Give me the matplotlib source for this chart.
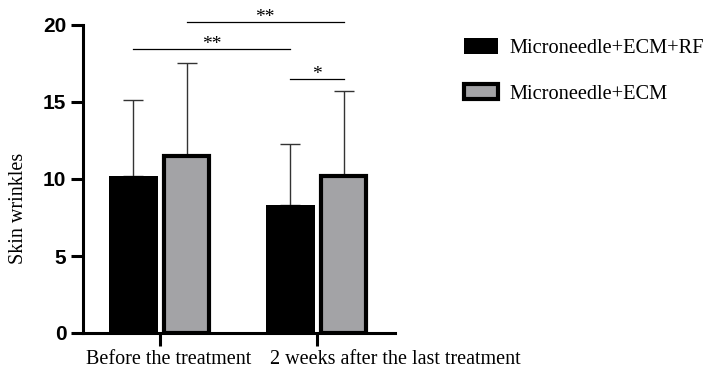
import matplotlib
matplotlib.use("Agg")
import matplotlib.pyplot as plt
import matplotlib.transforms as mtransforms
import numpy as np

categories = ["Before the treatment", "2 weeks after the last treatment"]
series_names = ["Microneedle+ECM+RF", "Microneedle+ECM"]
means_rf = [10.2, 8.3]
sd_rf = [4.9, 4.0]
means_ecm = [11.5, 10.2]
sd_ecm = [6.0, 5.5]
yticks = [0, 5, 10, 15, 20]
# significance brackets: (group_a, series_a, group_b, series_b, height, label)
sig_brackets = [
    (0, 1, 1, 1, 20.17, "**"),
    (0, 0, 1, 0, 18.42, "**"),
    (1, 0, 1, 1, 16.47, "*"),
]

serif = ["Liberation Serif", "DejaVu Serif"]
sans = ["Liberation Sans", "DejaVu Sans"]

fig = plt.figure(figsize=(7.08, 3.68), dpi=100)
ax = fig.add_axes([83/708, 35/368, 312/708, 308/368])

x = np.arange(len(categories))
off = 0.17
w = 0.31
colors = ["#000000", "#a3a3a6"]
b1 = ax.bar(x - off, means_rf, width=w, color=colors[0], edgecolor="black", linewidth=0, zorder=2, label=series_names[0])
b2 = ax.bar(x + off, means_ecm, width=w - 0.02, color=colors[1], edgecolor="black", linewidth=3.0, zorder=2, label=series_names[1])
ax.errorbar(x - off, means_rf, yerr=[np.zeros(2), sd_rf], fmt="none", ecolor="#333333", elinewidth=1.0, capsize=7, capthick=1.0, zorder=1)
ax.errorbar(x + off, means_ecm, yerr=[np.zeros(2), sd_ecm], fmt="none", ecolor="#333333", elinewidth=1.0, capsize=7, capthick=1.0, zorder=1)

offs = [-off, off]
for ga, sa, gb, sb, h, lab in sig_brackets:
    xa = x[ga] + offs[sa]
    xb = x[gb] + offs[sb]
    ax.plot([xa, xb], [h, h], color="black", lw=0.9, clip_on=False)
    ax.text((xa + xb) / 2, h + 0.05, lab, ha="center", va="baseline", fontsize=14, family=serif, clip_on=False)

ax.set_xlim(-0.49, 1.497)
ax.set_ylim(0, 20)
ax.set_yticks(yticks)
ax.set_yticklabels([str(t) for t in yticks], fontsize=15, fontweight="bold", family=sans)
ax.set_xticks(x)
ax.set_xticklabels([])
ax.set_ylabel("Skin wrinkles", fontsize=14.5, family=serif)
ax.yaxis.set_label_coords(-0.175, 0.406)

# category labels placed under ticks, shifted horizontally as in the reference
shifts_px = [8.5, 78]
base = ax.get_xaxis_transform()
for xi, lab, s in zip(x, categories, shifts_px):
    tr = base + mtransforms.ScaledTranslation(s / 100, -17 / 100, fig.dpi_scale_trans)
    ax.text(xi, 0, lab, transform=tr, ha="center", va="top", fontsize=14.5, family=serif, clip_on=False)

for s in ["top", "right"]:
    ax.spines[s].set_visible(False)
for s in ["left", "bottom"]:
    ax.spines[s].set_linewidth(2.2)
ax.tick_params(axis="y", length=9, width=2.2, pad=3)
ax.tick_params(axis="x", length=9, width=2.2, pad=3)

leg = fig.legend(handles=[b1, b2], labels=series_names, loc="upper left",
                 bbox_to_anchor=(446/708, 1 - 20/368), frameon=False,
                 prop={"family": serif, "size": 14.7},
                 handlelength=1.65, handleheight=0.8, handletextpad=0.55, labelspacing=1.25)

fig.savefig("out.png", dpi=100)
